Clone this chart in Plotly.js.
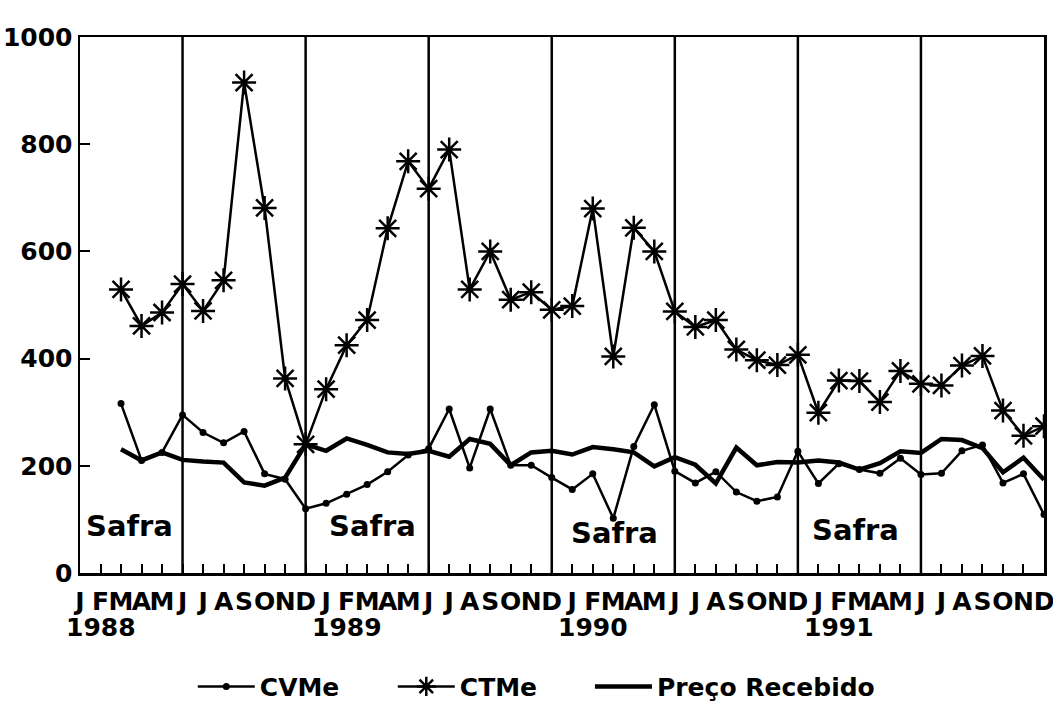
<!DOCTYPE html>
<html>
<head>
<meta charset="utf-8">
<script src="https://cdn.plot.ly/plotly-3.0.1.min.js"></script>
<style>
  html, body { margin: 0; padding: 0; background: #ffffff; }
  #chart { width: 1053px; height: 705px; }
</style>
</head>
<body>
<div id="chart"></div>
<script>
// Month index: 1 = Jan 1988 ... 48 = Dec 1991 (series start in Mar 1988)
const months = [3,4,5,6,7,8,9,10,11,12,
  13,14,15,16,17,18,19,20,21,22,23,24,
  25,26,27,28,29,30,31,32,33,34,35,36,
  37,38,39,40,41,42,43,44,45,46,47,48];

const cvme = [316,210,225,295,262,243,264,185,175,120,
  130,147,165,189,220,232,306,196,306,201,201,178,
  156,185,102,236,314,190,168,189,151,134,142,227,
  167,204,193,186,214,184,186,228,239,168,185,109];

const ctme = [529,461,486,539,489,546,915,681,363,240,
  343,425,472,643,768,717,790,529,600,510,524,491,
  498,680,404,644,600,488,459,472,417,397,388,407,
  299,359,358,319,377,353,350,387,405,303,256,274];

const preco = [231,210,225,211,208,206,169,163,178,240,
  228,251,239,225,222,228,217,250,241,201,225,228,
  221,235,231,225,199,216,202,167,234,201,207,206,
  210,206,193,205,227,224,250,248,233,188,215,174];

const monthLetters = ['J','F','M','A','M','J','J','A','S','O','N','D'];
const years = ['1988','1989','1990','1991'];
const yearCenters = [2, 14, 26, 38];
const safraCenters = [3.4, 15.25, 27.05, 38.8];
const safraLevels = [88, 88, 75, 80];
const dividers = [6, 12, 18, 24, 30, 36, 42];

const tickVals = [];
const tickText = [];
for (let y = 0; y < years.length; y++) {
  for (let m = 0; m < 12; m++) {
    tickVals.push(y * 12 + m + 1);
    tickText.push(monthLetters[m]);
  }
}

const FONT = 'DejaVu Sans, Liberation Sans, Arial, sans-serif';
const LEGFONT = { family: FONT, size: 25, color: '#000', weight: 'bold' };

const traces = [
  {
    x: months, y: cvme, name: 'CVMe', type: 'scatter', mode: 'lines+markers',
    line: { color: '#000', width: 2.5 },
    marker: { symbol: 'circle', size: 7, color: '#000' },
    legend: 'legend'
  },
  {
    x: months, y: ctme, name: 'CTMe', type: 'scatter', mode: 'lines+markers',
    line: { color: '#000', width: 2.5 },
    marker: { symbol: 'asterisk-open', size: 20, color: '#000', line: { color: '#000', width: 2.5 } },
    legend: 'legend'
  },
  {
    x: months, y: preco, name: 'Preço Recebido', type: 'scatter', mode: 'lines',
    line: { color: '#000', width: 4.5 },
    legend: 'legend2'
  }
];

const shapes = dividers.map(v => ({
  type: 'line', xref: 'x', yref: 'paper', x0: v, x1: v, y0: 0, y1: 1,
  line: { color: '#000', width: 2.5 }, layer: 'below'
}));

const annotations = [];
years.forEach((t, i) => annotations.push({
  x: yearCenters[i], xref: 'x', y: -0.101, yref: 'paper', text: t, showarrow: false,
  yanchor: 'middle', xanchor: 'center',
  font: { family: FONT, size: 25, color: '#000', weight: 'bold' }
}));
safraCenters.forEach((c, i) => annotations.push({
  x: c, xref: 'x', y: safraLevels[i], yref: 'y', text: 'Safra', showarrow: false,
  yanchor: 'middle', xanchor: 'center',
  font: { family: FONT, size: 29, color: '#000', weight: 'bold' }
}));

const layout = {
  width: 1053, height: 705,
  margin: { l: 80, r: 9, t: 37, b: 132, autoexpand: false },
  paper_bgcolor: '#fff', plot_bgcolor: '#fff',
  font: { family: FONT, size: 25, color: '#000', weight: 'bold' },
  showlegend: true,
  legend: {
    orientation: 'h', x: 0.117, xanchor: 'left', y: -0.212, yanchor: 'middle',
    itemwidth: 57, entrywidth: 128, entrywidthmode: 'pixels',
    font: LEGFONT, bgcolor: 'rgba(0,0,0,0)', traceorder: 'normal'
  },
  legend2: {
    orientation: 'h', x: 0.529, xanchor: 'left', y: -0.212, yanchor: 'middle',
    itemwidth: 57,
    font: LEGFONT, bgcolor: 'rgba(0,0,0,0)', traceorder: 'normal'
  },
  xaxis: {
    range: [1, 48], tickmode: 'array', tickvals: tickVals, ticktext: tickText,
    tickangle: 0, ticks: 'inside', ticklen: 9, tickwidth: 2, tickcolor: '#000',
    ticklabelstandoff: 4, ticklabeloverflow: 'allow',
    showline: true, linecolor: '#000', linewidth: 2.5, mirror: true,
    showgrid: false, zeroline: false, automargin: false,
    tickfont: { family: FONT, size: 25, color: '#000', weight: 'bold' }
  },
  yaxis: {
    range: [0, 1000], tickvals: [0, 200, 400, 600, 800, 1000],
    ticks: 'inside', ticklen: 10, tickwidth: 2, tickcolor: '#000',
    showline: true, linecolor: '#000', linewidth: 2.5, mirror: true,
    showgrid: false, zeroline: false, automargin: false,
    tickfont: { family: FONT, size: 25, color: '#000', weight: 'bold' }
  },
  shapes: shapes,
  annotations: annotations
};

Plotly.newPlot('chart', traces, layout, { displayModeBar: false, staticPlot: true });
</script>
</body>
</html>
